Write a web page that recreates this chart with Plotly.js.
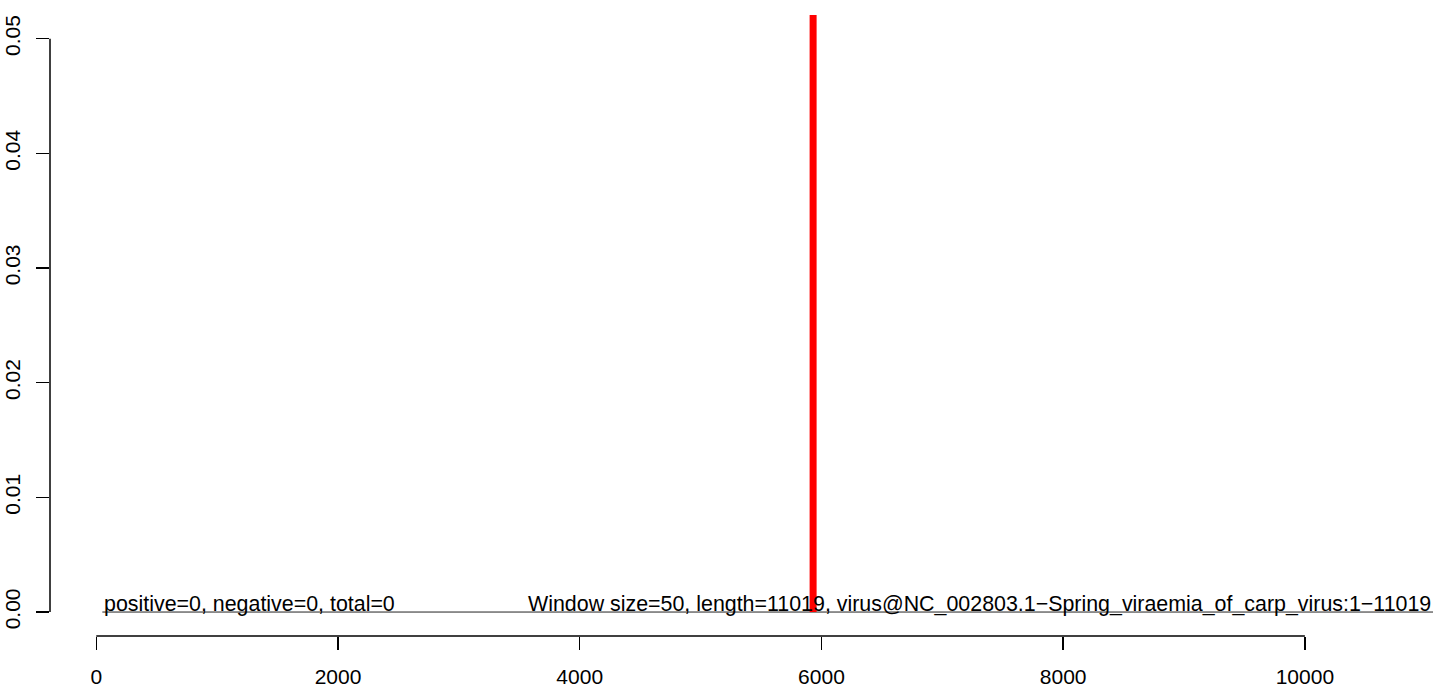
<!DOCTYPE html>
<html>
<head>
<meta charset="utf-8">
<script src="https://cdn.plot.ly/plotly-3.0.1.min.js"></script>
<style>html,body{margin:0;padding:0;background:#fff;}#chart{width:1444px;height:687px;}</style>
</head>
<body>
<div id="chart"></div>
<script>
// ---- data ----
const baselineX = [50, 11060];
const baselineY = [0, 0];
const peakX = [5931, 5931];
const peakY = [0, 0.06];
const xTicks = [0, 2000, 4000, 6000, 8000, 10000];
const yTicks = [0.00, 0.01, 0.02, 0.03, 0.04, 0.05];
const yTickText = ["0.00", "0.01", "0.02", "0.03", "0.04", "0.05"];
const leftLabel = "positive=0, negative=0, total=0";
const rightLabel = "Window size=50, length=11019, virus@NC_002803.1\u2212Spring_viraemia_of_carp_virus:1\u221211019";
const leftLabelX = 50;
const rightLabelX = 11060;

const FONT = "Liberation Sans, Arial, Helvetica, sans-serif";

const traces = [
  {x: baselineX, y: baselineY, mode: "lines", type: "scatter",
   line: {color: "#222222", width: 1}, hoverinfo: "skip", showlegend: false},
  {x: peakX, y: peakY, mode: "lines", type: "scatter",
   line: {color: "#ff0000", width: 7}, hoverinfo: "skip", showlegend: false}
];

const layout = {
  width: 1444, height: 687,
  margin: {l: 50, r: 0, t: 15, b: 51, pad: 0},
  paper_bgcolor: "#ffffff", plot_bgcolor: "#ffffff",
  showlegend: false,
  font: {family: FONT, size: 21, color: "#000"},
  xaxis: {
    range: [-383, 11151], showgrid: false, zeroline: false, showline: false,
    tickmode: "array", tickvals: xTicks, ticktext: xTicks.map(String),
    ticks: "outside", ticklen: 13, tickwidth: 1.5, tickcolor: "#000",
    tickfont: {family: FONT, size: 21, color: "#000"},
    ticklabelstandoff: 9
  },
  yaxis: {
    range: [-0.00209, 0.05207], showgrid: false, zeroline: false, showline: false,
    tickmode: "array", tickvals: yTicks, ticktext: yTickText,
    ticks: "outside", ticklen: 13, tickwidth: 1.5, tickcolor: "#000",
    tickangle: -90,
    tickfont: {family: FONT, size: 21, color: "#000"},
    ticklabelstandoff: 8
  },
  shapes: [
    {type: "line", xref: "x", yref: "paper", x0: xTicks[0], x1: xTicks[xTicks.length-1], y0: 0, y1: 0,
     line: {color: "#000", width: 1.5}},
    {type: "line", xref: "paper", yref: "y", x0: 0, x1: 0, y0: yTicks[0], y1: yTicks[yTicks.length-1],
     line: {color: "#000", width: 1.5}}
  ],
  annotations: [
    {x: leftLabelX, y: 0, xref: "x", yref: "y", text: leftLabel, showarrow: false,
     xanchor: "left", yanchor: "bottom", yshift: -6, font: {family: FONT, size: 21.4, color: "#000"}},
    {x: rightLabelX, y: 0, xref: "x", yref: "y", text: rightLabel, showarrow: false,
     xanchor: "right", yanchor: "bottom", yshift: -6, font: {family: FONT, size: 21.4, color: "#000"}}
  ]
};

Plotly.newPlot("chart", traces, layout, {displayModeBar: false, staticPlot: true});
</script>
</body>
</html>
